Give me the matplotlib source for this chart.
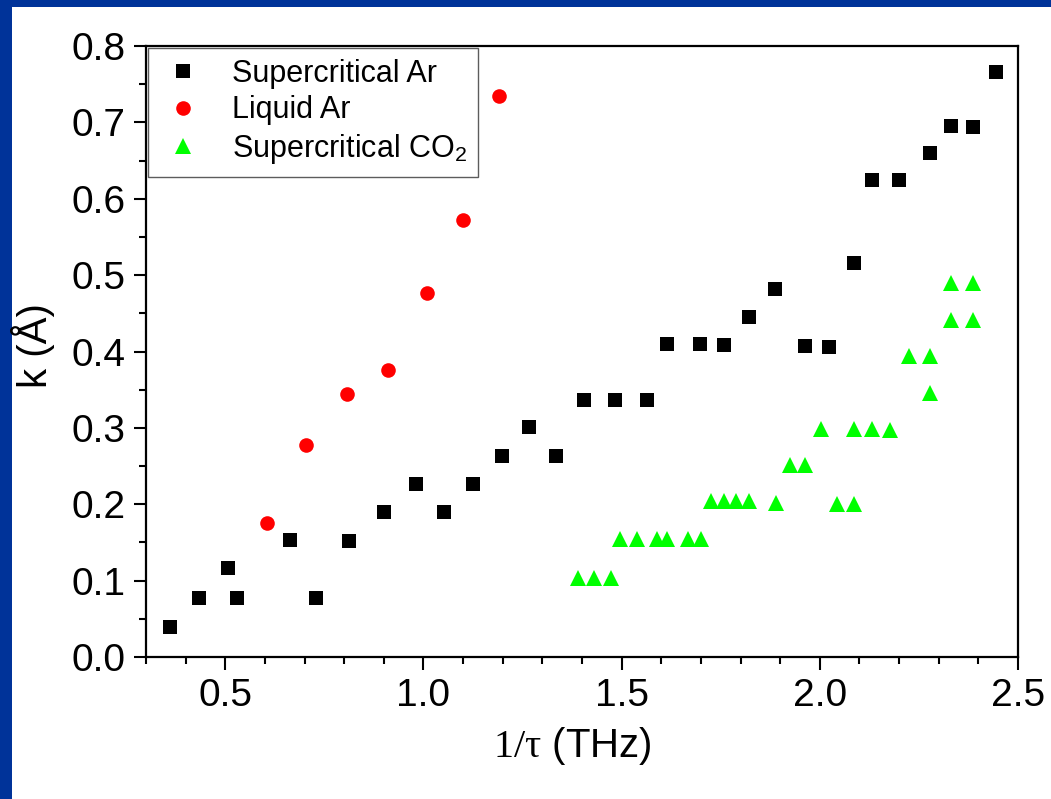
import matplotlib
matplotlib.use("Agg")
import matplotlib.pyplot as plt
from matplotlib.patches import Rectangle
from matplotlib.ticker import MultipleLocator, FormatStrFormatter

plt.rcParams["font.family"] = ["Liberation Sans", "DejaVu Sans"]
plt.rcParams["mathtext.fontset"] = "custom"
plt.rcParams["mathtext.rm"] = "Liberation Serif"
plt.rcParams["mathtext.sf"] = "Liberation Sans"
plt.rcParams["mathtext.it"] = "Liberation Serif:italic"

# Supercritical argon
sc_ar_x = [0.361, 0.433, 0.508, 0.530, 0.663, 0.729, 0.812, 0.901, 0.980, 1.051,
           1.124, 1.199, 1.267, 1.335, 1.404, 1.483, 1.564, 1.614, 1.697, 1.757,
           1.821, 1.886, 1.963, 2.024, 2.087, 2.131, 2.201, 2.277, 2.331, 2.386, 2.444]
sc_ar_k = [0.039, 0.077, 0.116, 0.077, 0.153, 0.077, 0.152, 0.190, 0.227, 0.190,
           0.227, 0.263, 0.301, 0.263, 0.337, 0.337, 0.336, 0.410, 0.410, 0.409,
           0.445, 0.482, 0.407, 0.406, 0.516, 0.625, 0.625, 0.660, 0.695, 0.694, 0.766]

# Liquid argon
liq_ar_x = [0.605, 0.704, 0.807, 0.910, 1.010, 1.099, 1.191]
liq_ar_k = [0.175, 0.278, 0.345, 0.376, 0.476, 0.572, 0.734]

# Supercritical CO2
sc_co2_x = [1.391, 1.431, 1.472,
            1.495, 1.540, 1.588, 1.614, 1.668, 1.699,
            1.726, 1.757, 1.788, 1.821, 1.889,
            1.926, 1.963,
            2.003, 2.087, 2.131, 2.177,
            2.044, 2.087,
            2.277,
            2.226, 2.277,
            2.331, 2.386,
            2.331, 2.386]
sc_co2_k = [0.104, 0.104, 0.104,
            0.155, 0.155, 0.155, 0.155, 0.155, 0.155,
            0.204, 0.204, 0.204, 0.204, 0.202,
            0.252, 0.252,
            0.299, 0.299, 0.298, 0.297,
            0.200, 0.200,
            0.346,
            0.394, 0.394,
            0.441, 0.441,
            0.490, 0.490]

labels = ["Supercritical Ar", "Liquid Ar", r"Supercritical CO$_\mathsf{2}$"]

W, H = 1051, 799
fig = plt.figure(figsize=(W / 100, H / 100), dpi=100, facecolor="white")
# slide border: blue strip along the left and top edges
blue = "#003399"
fig.patches.append(Rectangle((0, 0), 12 / W, 1, transform=fig.transFigure,
                             facecolor=blue, edgecolor="none", zorder=-10))
fig.patches.append(Rectangle((0, 1 - 7 / H), 1, 7 / H, transform=fig.transFigure,
                             facecolor=blue, edgecolor="none", zorder=-10))

ax = fig.add_axes([146 / W, 1 - 657 / H, (1018 - 146) / W, (657 - 46) / H])
ax.set_facecolor("white")

ax.plot(sc_ar_x, sc_ar_k, linestyle="none", marker="s", ms=9.5, mew=0,
        color="black", label=labels[0])
ax.plot(liq_ar_x, liq_ar_k, linestyle="none", marker="o", ms=10.5, mew=0,
        color="#ff0000", label=labels[1])
ax.plot(sc_co2_x, sc_co2_k, linestyle="none", marker="^", ms=11, mew=0,
        color="#00ff00", label=labels[2])

ax.set_xlim(0.3, 2.5)
ax.set_ylim(0.0, 0.8)
ax.xaxis.set_major_locator(MultipleLocator(0.5))
ax.xaxis.set_minor_locator(MultipleLocator(0.1))
ax.yaxis.set_major_locator(MultipleLocator(0.1))
ax.yaxis.set_minor_locator(MultipleLocator(0.05))
ax.xaxis.set_major_formatter(FormatStrFormatter("%.1f"))
ax.yaxis.set_major_formatter(FormatStrFormatter("%.1f"))

ax.tick_params(which="major", direction="out", length=9, width=1.5,
               labelsize=28, pad=6, top=False, right=False)
ax.tick_params(which="minor", direction="out", length=5, width=1.5,
               top=False, right=False)
for s in ax.spines.values():
    s.set_linewidth(1.6)
    s.set_color("black")

ax.set_xlabel(r"$\mathrm{1/\tau}$ (THz)", fontsize=29)
ax.set_ylabel("k (Å)", fontsize=29)
ax.xaxis.set_label_coords(0.489, -0.112)
ax.yaxis.set_label_coords(-0.104, 0.51)

leg = ax.legend(loc="upper left", bbox_to_anchor=(0.002, 0.997),
                borderaxespad=0, fontsize=22, frameon=True, fancybox=False,
                borderpad=0.35, handlelength=1.6, handletextpad=0.8,
                labelspacing=0.22, numpoints=1)
leg.get_frame().set_edgecolor("#333333")
leg.get_frame().set_linewidth(1.0)

fig.savefig("out.png", dpi=100)
